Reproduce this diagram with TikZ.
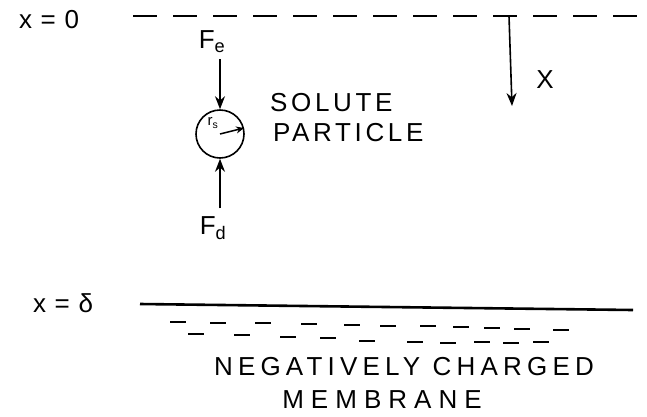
\documentclass[tikz,border=0pt]{standalone}
\usepackage{fontspec}
\setsansfont{Liberation Sans}
\newfontfamily\handfont[LetterSpace=14]{Liberation Sans}
\newfontfamily\widefont[LetterSpace=20]{Liberation Sans}
\newfontfamily\widerfont[LetterSpace=27]{Liberation Sans}
\usepackage{tikz}
\usetikzlibrary{positioning}
\usetikzlibrary{arrows.meta}

\tikzset{
    lbl/.style={font=\handfont\fontsize{26}{30}\selectfont, inner sep=0pt},
    force/.style={line width=1.6pt, -{Stealth[length=13pt,width=10pt]}},
    charge/.style={line width=1.8pt},
}

\begin{document}
\begin{tikzpicture}[x=1pt, y=-1pt]
            \useasboundingbox (0,0) rectangle (647,416);
            % plane x = 0
            \node[lbl] (xzero) at (49,20) {x\,\,=\,\,0};
            \coordinate (topl) at (133,16);
            \coordinate (topr) at (647,16);
            \draw[line width=1.8pt, dash pattern=on 24pt off 16pt] (topl) -- (topr);
            % direction of x
            \coordinate (xa) at (509,16);
            \coordinate (xb) at (512,106);
            \draw[force] (xa) -- (xb);
            \node[lbl] (xdir) at (545,80) {X};
            % the particle and its forces
            \node[circle, draw, line width=1.6pt, minimum size=48pt, inner sep=0pt] (part) at (220,134) {};
            \node[lbl, font=\handfont\fontsize{15}{17}\selectfont] (rs) at (213,123) {r\textsubscript{s}};
            \draw[line width=1.5pt, -{Stealth[length=8pt,width=7pt]}] (part.center) -- (part.14);
            \node[lbl] (fe) at (212,42) {F\textsubscript{e}};
            \node[lbl] (fd) at (213,228) {F\textsubscript{d}};
            \draw[force] (part.north |- fe.south) ++(0,6) -- (part.north);
            \draw[force] (part.south |- fd.north) ++(0,-8) -- (part.south);
            \node[lbl, anchor=west] (solute) at (270,103) {SOLUTE};
            \node[lbl, anchor=north west] (partic) at (273,123) {PARTICLE};
            % membrane
            \node[lbl] (xdelta) at (63,303) {x\,\,=\,\,δ};
            \coordinate (meml) at (140,304);
            \coordinate (memr) at (633,310);
            \draw[line width=2.6pt] (meml) -- (memr);
            \foreach \cx/\cy in {178/322, 218/323, 263/323, 309/324, 352/325, 388/326, 428/326, 461/327, 492/328, 522/329, 561/330}
                \draw[charge] (\cx-8,\cy) -- (\cx+8,\cy);
            \foreach \cx/\cy in {196/334, 242/335, 288/337, 328/338, 367/341, 415/342, 448/343, 482/342, 511/343, 541/342}
                \draw[charge] (\cx-8,\cy) -- (\cx+8,\cy);
            \node[lbl, font=\widefont\fontsize{26}{30}\selectfont] (neg) at (404,367) {NEGATIVELY CHARGED};
            \node[lbl, font=\widerfont\fontsize{26}{30}\selectfont] (mem) at (382,400) {MEMBRANE};
\end{tikzpicture}
\end{document}
